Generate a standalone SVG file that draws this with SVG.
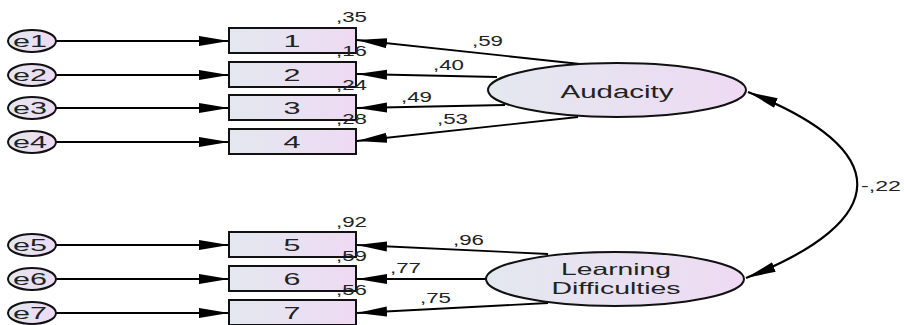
<svg xmlns="http://www.w3.org/2000/svg" width="904" height="325" viewBox="0 0 904 325">
<defs>
<linearGradient id="g" x1="0" y1="0" x2="1" y2="0">
<stop offset="0" stop-color="#e3e8ef"/>
<stop offset="1" stop-color="#eedaf3"/>
</linearGradient>
<marker id="ah" markerUnits="userSpaceOnUse" markerWidth="32" markerHeight="12" refX="30" refY="6" orient="auto-start-reverse">
<path d="M0,1 L30,6 L0,11 Z" fill="#000"/>
</marker>
<style>
.n{fill:url(#g);stroke:#111;stroke-width:2}
.c{fill:none;stroke:#000;stroke-width:1.8;marker-end:url(#ah)}
.cc{fill:none;stroke:#000;stroke-width:2.2;marker-start:url(#ah);marker-end:url(#ah)}
.t{font-family:"Liberation Sans",Arial,sans-serif;font-size:17px;fill:#222;text-anchor:middle}
.l{font-family:"Liberation Sans",Arial,sans-serif;font-size:14px;fill:#222}
.b{font-family:"Liberation Sans",Arial,sans-serif;font-size:18px;fill:#222;text-anchor:middle}
.b2{font-family:"Liberation Sans",Arial,sans-serif;font-size:16.5px;fill:#222;text-anchor:middle}
</style>
</defs>
<g id="connectors">
<line class="c" x1="56" y1="41" x2="229" y2="41"/>
<line class="c" x1="56" y1="75" x2="229" y2="75"/>
<line class="c" x1="56" y1="108" x2="229" y2="108"/>
<line class="c" x1="56" y1="142" x2="229" y2="142"/>
<line class="c" x1="56" y1="245" x2="229" y2="245"/>
<line class="c" x1="56" y1="279" x2="229" y2="279"/>
<line class="c" x1="56" y1="313" x2="229" y2="313"/>
<line class="c" x1="580" y1="64" x2="357" y2="40"/>
<line class="c" x1="497" y1="77" x2="357" y2="74"/>
<line class="c" x1="505" y1="105" x2="357" y2="108"/>
<line class="c" x1="578" y1="117" x2="357" y2="141"/>
<line class="c" x1="548" y1="254" x2="357" y2="245"/>
<line class="c" x1="486" y1="279" x2="357" y2="279"/>
<line class="c" x1="548" y1="303" x2="357" y2="313"/>
<path class="cc" d="M748,92 C 895,150 893,220 746,278"/>
</g>
<g id="e1"><ellipse class="n" cx="32" cy="41" rx="24" ry="11"/><text class="t" x="30" y="47" textLength="34" lengthAdjust="spacingAndGlyphs">e1</text></g>
<g id="e2"><ellipse class="n" cx="32" cy="75" rx="24" ry="11"/><text class="t" x="30" y="81" textLength="34" lengthAdjust="spacingAndGlyphs">e2</text></g>
<g id="e3"><ellipse class="n" cx="32" cy="108" rx="24" ry="11"/><text class="t" x="30" y="114" textLength="34" lengthAdjust="spacingAndGlyphs">e3</text></g>
<g id="e4"><ellipse class="n" cx="32" cy="142" rx="24" ry="11"/><text class="t" x="30" y="148" textLength="34" lengthAdjust="spacingAndGlyphs">e4</text></g>
<g id="e5"><ellipse class="n" cx="32" cy="245" rx="24" ry="11"/><text class="t" x="30" y="251" textLength="34" lengthAdjust="spacingAndGlyphs">e5</text></g>
<g id="e6"><ellipse class="n" cx="32" cy="279" rx="24" ry="11"/><text class="t" x="30" y="285" textLength="34" lengthAdjust="spacingAndGlyphs">e6</text></g>
<g id="e7"><ellipse class="n" cx="32" cy="313" rx="24" ry="11"/><text class="t" x="30" y="319" textLength="34" lengthAdjust="spacingAndGlyphs">e7</text></g>
<g id="v1"><rect class="n" x="229" y="28" width="127" height="25"/><text class="t" x="292" y="47" textLength="17" lengthAdjust="spacingAndGlyphs">1</text><text class="l" x="336" y="22" textLength="31" lengthAdjust="spacingAndGlyphs">,35</text></g>
<g id="v2"><rect class="n" x="229" y="62" width="127" height="25"/><text class="t" x="292" y="81" textLength="17" lengthAdjust="spacingAndGlyphs">2</text><text class="l" x="336" y="56" textLength="31" lengthAdjust="spacingAndGlyphs">,16</text></g>
<g id="v3"><rect class="n" x="229" y="95" width="127" height="25"/><text class="t" x="292" y="114" textLength="17" lengthAdjust="spacingAndGlyphs">3</text><text class="l" x="336" y="90" textLength="31" lengthAdjust="spacingAndGlyphs">,24</text></g>
<g id="v4"><rect class="n" x="229" y="129" width="127" height="25"/><text class="t" x="292" y="148" textLength="17" lengthAdjust="spacingAndGlyphs">4</text><text class="l" x="336" y="124" textLength="31" lengthAdjust="spacingAndGlyphs">,28</text></g>
<g id="v5"><rect class="n" x="229" y="232" width="127" height="25"/><text class="t" x="292" y="251" textLength="17" lengthAdjust="spacingAndGlyphs">5</text><text class="l" x="336" y="227" textLength="31" lengthAdjust="spacingAndGlyphs">,92</text></g>
<g id="v6"><rect class="n" x="229" y="266" width="127" height="25"/><text class="t" x="292" y="285" textLength="17" lengthAdjust="spacingAndGlyphs">6</text><text class="l" x="336" y="261" textLength="31" lengthAdjust="spacingAndGlyphs">,59</text></g>
<g id="v7"><rect class="n" x="229" y="300" width="127" height="25"/><text class="t" x="292" y="319" textLength="17" lengthAdjust="spacingAndGlyphs">7</text><text class="l" x="336" y="295" textLength="31" lengthAdjust="spacingAndGlyphs">,56</text></g>
<g id="audacity"><ellipse class="n" cx="617" cy="90" rx="129" ry="27"/><text class="b" x="617" y="98" textLength="113" lengthAdjust="spacingAndGlyphs">Audacity</text></g>
<g id="learning"><ellipse class="n" cx="615" cy="279" rx="129" ry="27"/><text class="b2" x="616" y="275" textLength="110" lengthAdjust="spacingAndGlyphs">Learning</text><text class="b2" x="616" y="294" textLength="129" lengthAdjust="spacingAndGlyphs">Difficulties</text></g>
<g id="labels">
<text class="l" x="472" y="46" textLength="31" lengthAdjust="spacingAndGlyphs">,59</text>
<text class="l" x="433" y="70" textLength="31" lengthAdjust="spacingAndGlyphs">,40</text>
<text class="l" x="401" y="102" textLength="31" lengthAdjust="spacingAndGlyphs">,49</text>
<text class="l" x="437" y="124" textLength="31" lengthAdjust="spacingAndGlyphs">,53</text>
<text class="l" x="453" y="245" textLength="31" lengthAdjust="spacingAndGlyphs">,96</text>
<text class="l" x="390" y="273" textLength="31" lengthAdjust="spacingAndGlyphs">,77</text>
<text class="l" x="420" y="303" textLength="31" lengthAdjust="spacingAndGlyphs">,75</text>
<text class="l" x="861" y="191" textLength="40" lengthAdjust="spacingAndGlyphs">-,22</text>
</g>
</svg>
